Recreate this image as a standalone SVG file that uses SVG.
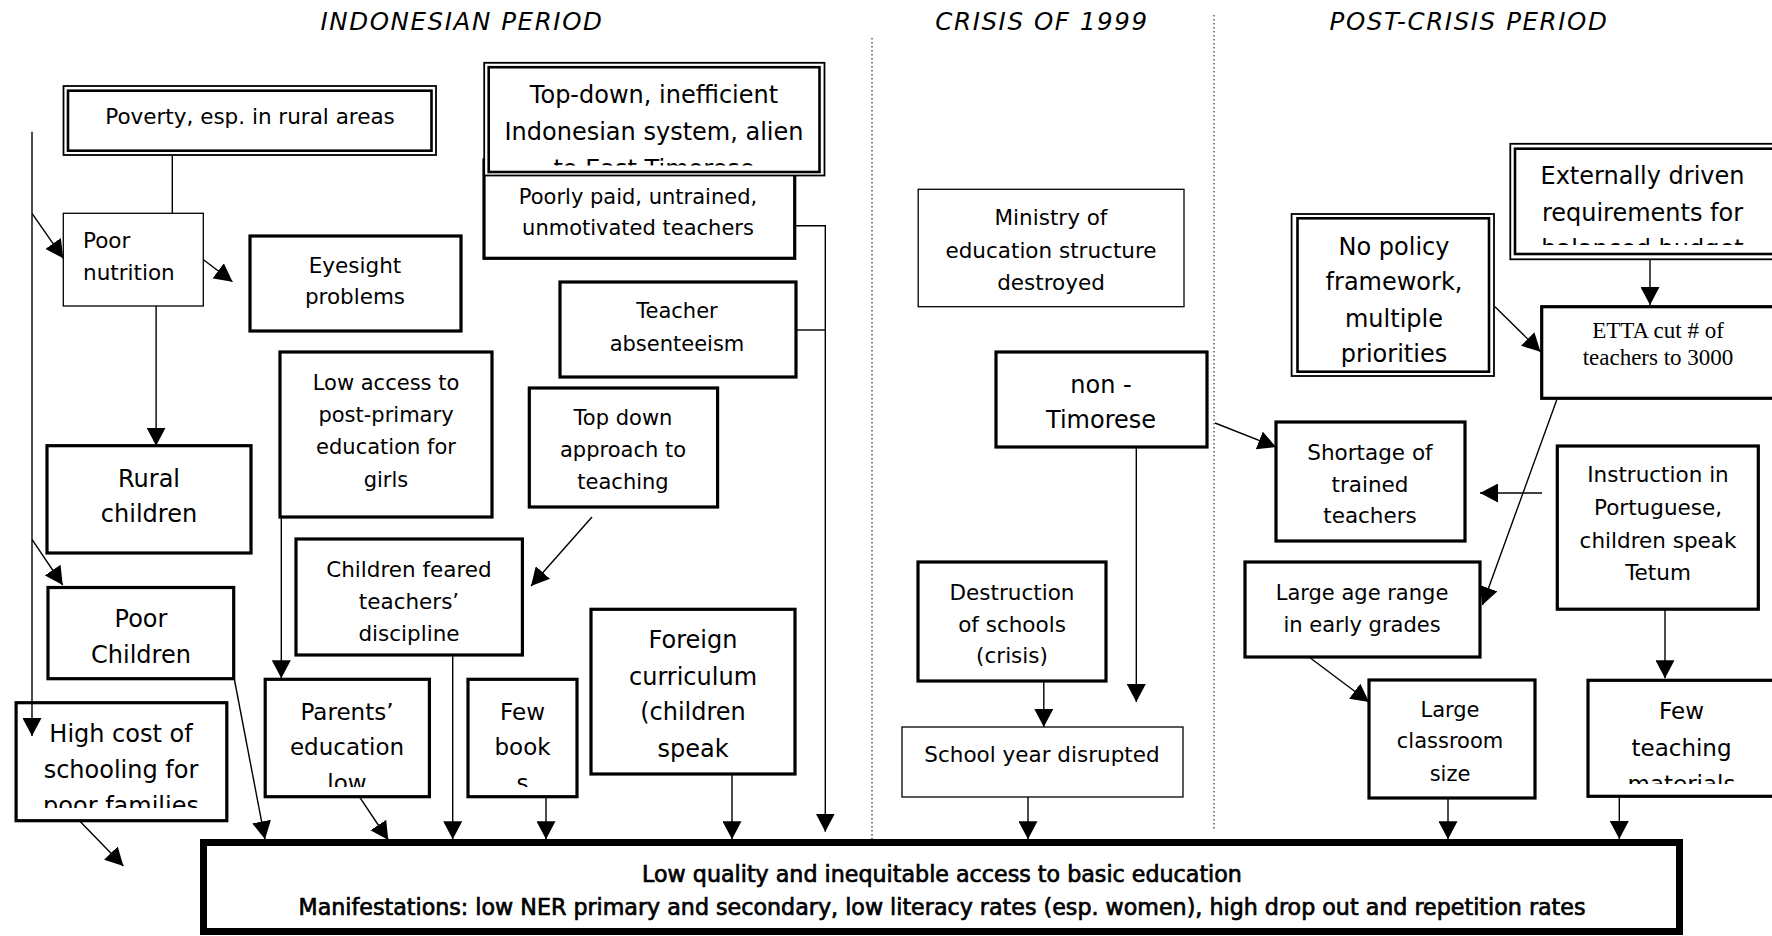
<svg xmlns="http://www.w3.org/2000/svg" width="1772" height="936" viewBox="0 0 1772 936">
  <style>
    .bx { fill: #fff; stroke: #000; stroke-width: 3.2; }
    .th { fill: #fff; stroke: #000; stroke-width: 1.3; }
    .o1 { fill: #fff; stroke: #000; stroke-width: 1.8; }
    .o2 { fill: none; stroke: #000; stroke-width: 2.6; }
    .t { font-family: "DejaVu Sans", "Liberation Sans", sans-serif; font-size: 21.5px; text-anchor: middle; fill: #000; }
    .l { font-size: 24px; }
    .m { font-size: 23px; }
    .s { font-size: 21px; }
    .st { text-anchor: start; }
    .serif { font-family: "Liberation Serif", "DejaVu Serif", serif; font-size: 23px; }
    .hd { font-family: "DejaVu Sans", "Liberation Sans", sans-serif; font-style: italic; font-size: 24.5px; letter-spacing: 1.6px; text-anchor: middle; fill: #000; }
    .mn { font-family: "DejaVu Sans", "Liberation Sans", sans-serif; font-size: 22.2px; text-anchor: middle; fill: #000; stroke: #000; stroke-width: 0.7; }
    .cn { fill: none; stroke: #000; stroke-width: 1.4; }
    .dv { fill: none; stroke: #000; stroke-width: 1; stroke-dasharray: 1.5 2.5; }
  </style>
  <defs>
    <marker id="ah" markerUnits="userSpaceOnUse" markerWidth="19" markerHeight="19" refX="18" refY="9.5" orient="auto">
      <path d="M0,0 L18,9.5 L0,19 z" fill="#000"/>
    </marker>
    <clipPath id="clipTopDown"><rect x="486" y="64" width="336" height="101.5"/></clipPath>
    <clipPath id="clipExternal"><rect x="1513" y="147" width="260" height="98"/></clipPath>
    <clipPath id="clipPolicy"><rect x="1296" y="216" width="195" height="151"/></clipPath>
    <clipPath id="clipParents"><rect x="266" y="680" width="162" height="107"/></clipPath>
    <clipPath id="clipBooks"><rect x="469" y="680" width="107" height="107"/></clipPath>
    <clipPath id="clipCost"><rect x="17" y="704" width="209" height="104"/></clipPath>
    <clipPath id="clipMaterials"><rect x="1589" y="681" width="183" height="103"/></clipPath>
  </defs>

  <rect width="1772" height="936" fill="#fff"/>

  <!-- period headings and dotted period dividers -->
  <g id="headings">
    <text class="hd" x="462" y="30">INDONESIAN PERIOD</text>
    <text class="hd" x="1042" y="30">CRISIS OF 1999</text>
    <text class="hd" x="1469" y="30">POST-CRISIS PERIOD</text>
    <line class="dv" x1="872" y1="38" x2="872" y2="853"/>
    <line class="dv" x1="1214" y1="15" x2="1214" y2="830"/>
  </g>

  <!-- Indonesian period -->
  <g id="poverty">
    <rect class="o1" x="63.5" y="86" width="372.5" height="69"/>
    <rect class="o2" x="68" y="90.7" width="363.5" height="60"/>
    <text class="t" x="250" y="124">Poverty, esp. in rural areas</text>
  </g>

  <g id="poorly-paid">
    <rect class="bx" x="484" y="160" width="310.7" height="98.3"/>
    <text class="t s" x="638" y="204">Poorly paid, untrained,</text>
    <text class="t s" x="638" y="235">unmotivated teachers</text>
  </g>

  <g id="top-down-system">
    <rect class="o1" x="484.2" y="62.8" width="340.3" height="112.7"/>
    <rect class="o2" x="488.7" y="67.2" width="330.8" height="104.8"/>
    <g clip-path="url(#clipTopDown)">
      <text class="t l" x="654" y="103">Top-down, inefficient</text>
      <text class="t l" x="654" y="140">Indonesian system, alien</text>
      <text class="t l" x="654" y="177">to East Timorese</text>
    </g>
  </g>

  <g id="poor-nutrition">
    <rect class="th" x="63.3" y="213.3" width="140" height="92.7"/>
    <text class="t st" x="83" y="248">Poor</text>
    <text class="t st" x="83" y="280">nutrition</text>
  </g>

  <g id="eyesight">
    <rect class="bx" x="250" y="236" width="211" height="95"/>
    <text class="t" x="355" y="273">Eyesight</text>
    <text class="t" x="355" y="304">problems</text>
  </g>

  <g id="absenteeism">
    <rect class="bx" x="560" y="282" width="236" height="95"/>
    <text class="t s" x="677" y="318">Teacher</text>
    <text class="t s" x="677" y="350.5">absenteeism</text>
  </g>

  <g id="low-access">
    <rect class="bx" x="280" y="352" width="212" height="165"/>
    <text class="t s" x="386" y="390">Low access to</text>
    <text class="t s" x="386" y="422">post-primary</text>
    <text class="t s" x="386" y="454">education for</text>
    <text class="t s" x="386" y="487">girls</text>
  </g>

  <g id="top-down-teaching">
    <rect class="bx" x="529.3" y="388" width="188.3" height="119"/>
    <text class="t s" x="623" y="425">Top down</text>
    <text class="t s" x="623" y="457">approach to</text>
    <text class="t s" x="623" y="488.5">teaching</text>
  </g>

  <g id="rural-children">
    <rect class="bx" x="47" y="445.7" width="204" height="107.3"/>
    <text class="t l" x="149" y="487">Rural</text>
    <text class="t l" x="149" y="522">children</text>
  </g>

  <g id="poor-children">
    <rect class="bx" x="48" y="587.5" width="185.7" height="91.2"/>
    <text class="t l" x="141" y="627">Poor</text>
    <text class="t l" x="141" y="663">Children</text>
  </g>

  <g id="children-feared">
    <rect class="bx" x="296" y="539" width="226.4" height="116"/>
    <text class="t" x="409" y="577">Children feared</text>
    <text class="t" x="409" y="609">teachers’</text>
    <text class="t" x="409" y="641">discipline</text>
  </g>

  <g id="foreign-curriculum">
    <rect class="bx" x="591" y="609.3" width="204" height="164.7"/>
    <text class="t l" x="693" y="648">Foreign</text>
    <text class="t l" x="693" y="685">curriculum</text>
    <text class="t l" x="693" y="720">(children</text>
    <text class="t l" x="693" y="757">speak</text>
  </g>

  <g id="parents-education">
    <rect class="bx" x="265.2" y="679.3" width="164.2" height="117.4"/>
    <g clip-path="url(#clipParents)">
      <text class="t m" x="347" y="720">Parents’</text>
      <text class="t m" x="347" y="755">education</text>
      <text class="t m" x="347" y="791">low</text>
    </g>
  </g>

  <g id="few-books">
    <rect class="bx" x="468" y="679.3" width="109" height="117.4"/>
    <g clip-path="url(#clipBooks)">
      <text class="t m" x="522.5" y="720">Few</text>
      <text class="t m" x="522.5" y="755">book</text>
      <text class="t m" x="522.5" y="791">s</text>
    </g>
  </g>

  <g id="high-cost">
    <rect class="bx" x="16.1" y="702.7" width="210.7" height="118"/>
    <g clip-path="url(#clipCost)">
      <text class="t l" x="121" y="742">High cost of</text>
      <text class="t l" x="121" y="778">schooling for</text>
      <text class="t l" x="121" y="814">poor families</text>
    </g>
  </g>

  <!-- Crisis of 1999 -->
  <g id="ministry">
    <rect class="th" x="918.2" y="189.3" width="265.8" height="117.4"/>
    <text class="t" x="1051" y="225">Ministry of</text>
    <text class="t" x="1051" y="258">education structure</text>
    <text class="t" x="1051" y="290">destroyed</text>
  </g>

  <g id="non-timorese">
    <rect class="bx" x="996" y="352" width="211" height="95"/>
    <text class="t l" x="1101" y="393">non -</text>
    <text class="t l" x="1101" y="428">Timorese</text>
  </g>

  <g id="destruction">
    <rect class="bx" x="918" y="562" width="188" height="119"/>
    <text class="t" x="1012" y="600">Destruction</text>
    <text class="t" x="1012" y="632">of schools</text>
    <text class="t" x="1012" y="663">(crisis)</text>
  </g>

  <g id="school-year">
    <rect class="th" x="902" y="727" width="281" height="70"/>
    <text class="t" x="1042" y="762">School year disrupted</text>
  </g>

  <!-- Post-crisis period -->
  <g id="externally-driven">
    <rect class="o1" x="1510.3" y="143.8" width="272" height="115.5"/>
    <rect class="o2" x="1515" y="148.7" width="262" height="105.3"/>
    <g clip-path="url(#clipExternal)">
      <text class="t l" x="1642.5" y="184.3">Externally driven</text>
      <text class="t l" x="1642.5" y="220.7">requirements for</text>
      <text class="t l" x="1642.5" y="257">balanced budget</text>
    </g>
  </g>

  <g id="no-policy">
    <rect class="o1" x="1291.6" y="214" width="202.4" height="162"/>
    <rect class="o2" x="1297.5" y="218.3" width="191.5" height="153.4"/>
    <g clip-path="url(#clipPolicy)">
      <text class="t l" x="1394" y="255">No policy</text>
      <text class="t l" x="1394" y="290">framework,</text>
      <text class="t l" x="1394" y="327">multiple</text>
      <text class="t l" x="1394" y="362">priorities</text>
    </g>
  </g>

  <g id="etta">
    <rect class="bx" x="1541.7" y="306.7" width="240" height="91.6"/>
    <text class="t serif" x="1658" y="338.3">ETTA cut # of</text>
    <text class="t serif" x="1658" y="365">teachers to 3000</text>
  </g>

  <g id="shortage">
    <rect class="bx" x="1276" y="422" width="189" height="119"/>
    <text class="t" x="1370" y="460">Shortage of</text>
    <text class="t" x="1370" y="492">trained</text>
    <text class="t" x="1370" y="523">teachers</text>
  </g>

  <g id="instruction">
    <rect class="bx" x="1557.3" y="446" width="201" height="163.2"/>
    <text class="t" x="1658" y="482">Instruction in</text>
    <text class="t" x="1658" y="515">Portuguese,</text>
    <text class="t" x="1658" y="548">children speak</text>
    <text class="t" x="1658" y="580">Tetum</text>
  </g>

  <g id="large-age-range">
    <rect class="bx" x="1245" y="562" width="235" height="95"/>
    <text class="t s" x="1362" y="600">Large age range</text>
    <text class="t s" x="1362" y="632">in early grades</text>
  </g>

  <g id="large-classroom">
    <rect class="bx" x="1369" y="680" width="166" height="118"/>
    <text class="t s" x="1450" y="717">Large</text>
    <text class="t s" x="1450" y="748">classroom</text>
    <text class="t s" x="1450" y="781">size</text>
  </g>

  <g id="few-teaching-materials">
    <rect class="bx" x="1588" y="680.3" width="200" height="116"/>
    <g clip-path="url(#clipMaterials)">
      <text class="t m" x="1681.5" y="719.3">Few</text>
      <text class="t m" x="1681.5" y="755.7">teaching</text>
      <text class="t m" x="1681.5" y="792">materials</text>
    </g>
  </g>

  <!-- central problem -->
  <g id="core-problem">
    <rect x="203.5" y="842.5" width="1476" height="89" fill="#fff" stroke="#000" stroke-width="7"/>
    <text class="mn" x="942" y="882">Low quality and inequitable access to basic education</text>
    <text class="mn" x="942" y="915">Manifestations: low NER primary and secondary, low literacy rates (esp. women), high drop out and repetition rates</text>
  </g>

  <!-- connectors -->
  <g id="connectors">
    <line class="cn" x1="172.3" y1="156" x2="172.3" y2="213.3"/>
    <line class="cn" x1="32" y1="131.7" x2="32" y2="736" marker-end="url(#ah)"/>
    <line class="cn" x1="32" y1="213.3" x2="63.3" y2="258.3" marker-end="url(#ah)"/>
    <line class="cn" x1="203.8" y1="260" x2="232.5" y2="281.7" marker-end="url(#ah)"/>
    <line class="cn" x1="156.1" y1="306" x2="156.1" y2="445.7" marker-end="url(#ah)"/>
    <line class="cn" x1="32" y1="539.3" x2="62.7" y2="585" marker-end="url(#ah)"/>
    <line class="cn" x1="234.5" y1="680" x2="265" y2="839.3" marker-end="url(#ah)"/>
    <line class="cn" x1="80.4" y1="821.7" x2="123.4" y2="866" marker-end="url(#ah)"/>
    <line class="cn" x1="281.3" y1="517" x2="281.3" y2="678.3" marker-end="url(#ah)"/>
    <line class="cn" x1="592" y1="517" x2="531" y2="586" marker-end="url(#ah)"/>
    <line class="cn" x1="452.7" y1="655" x2="452.7" y2="839.3" marker-end="url(#ah)"/>
    <line class="cn" x1="359.3" y1="796.7" x2="388.3" y2="840" marker-end="url(#ah)"/>
    <line class="cn" x1="546" y1="796.7" x2="546" y2="839.3" marker-end="url(#ah)"/>
    <line class="cn" x1="732" y1="774" x2="732" y2="839.3" marker-end="url(#ah)"/>
    <polyline class="cn" points="796,225.7 825.3,225.7 825.3,831.7" marker-end="url(#ah)"/>
    <line class="cn" x1="796" y1="330" x2="825.3" y2="330"/>
    <line class="cn" x1="1215" y1="423" x2="1276" y2="447" marker-end="url(#ah)"/>
    <line class="cn" x1="1136.3" y1="447" x2="1136.3" y2="702" marker-end="url(#ah)"/>
    <line class="cn" x1="1043.8" y1="681" x2="1043.8" y2="727" marker-end="url(#ah)"/>
    <line class="cn" x1="1028" y1="797" x2="1028" y2="839.3" marker-end="url(#ah)"/>
    <line class="cn" x1="1650" y1="260" x2="1650" y2="305" marker-end="url(#ah)"/>
    <line class="cn" x1="1495" y1="306.7" x2="1540.5" y2="351.7" marker-end="url(#ah)"/>
    <line class="cn" x1="1556.7" y1="400" x2="1482.4" y2="605" marker-end="url(#ah)"/>
    <line class="cn" x1="1542" y1="493" x2="1480" y2="493" marker-end="url(#ah)"/>
    <line class="cn" x1="1309" y1="657" x2="1369" y2="702" marker-end="url(#ah)"/>
    <line class="cn" x1="1448" y1="798" x2="1448" y2="839.3" marker-end="url(#ah)"/>
    <line class="cn" x1="1665" y1="609.2" x2="1665" y2="678.3" marker-end="url(#ah)"/>
    <line class="cn" x1="1619.3" y1="796.3" x2="1619.3" y2="839" marker-end="url(#ah)"/>
  </g>
</svg>
